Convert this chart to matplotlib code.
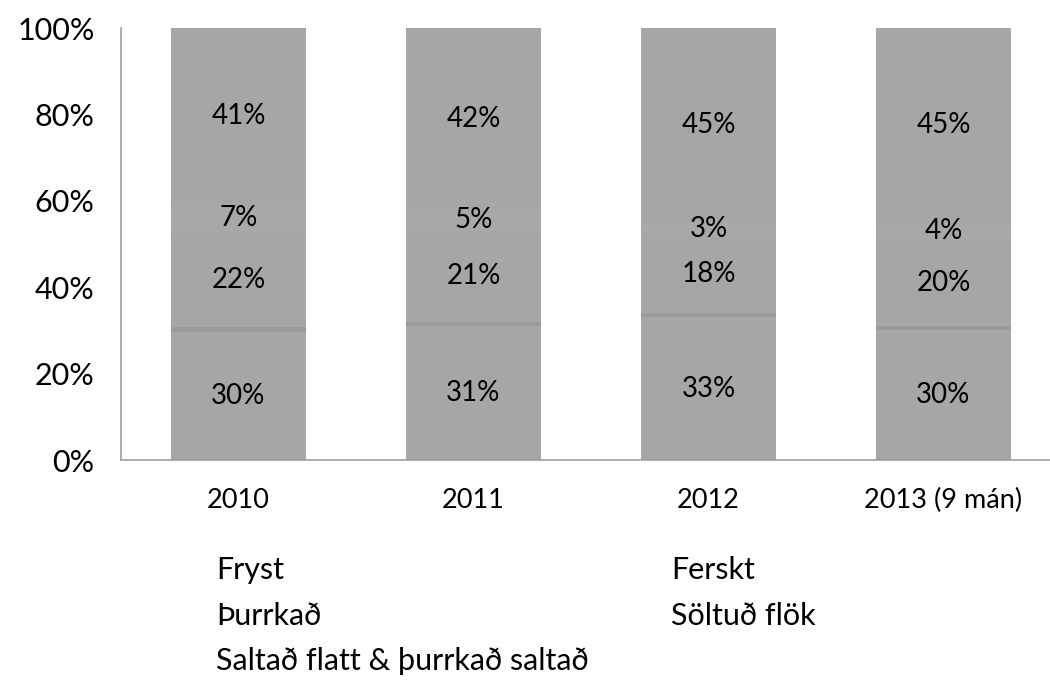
import numpy as np
import matplotlib
matplotlib.use("Agg")
import matplotlib.pyplot as plt
from matplotlib.patches import Patch

plt.rcParams['font.family'] = ['Lato', 'DejaVu Sans']

# categories and series (share of total, %)
years = ["2010", "2011", "2012", "2013 (9 mán)"]
series_names = ["Fryst", "Ferskt", "Þurrkað", "Söltuð flök",
                "Saltað flatt & þurrkað saltað"]
fryst = [30, 31, 33, 30]
ferskt = [1, 1, 1, 1]
thurrkad = [22, 21, 18, 20]
soltud_flok = [7, 5, 3, 4]
saltad = [41, 42, 45, 45]

values = np.array([fryst, ferskt, thurrkad, soltud_flok, saltad], dtype=float)
# stack to 100%
shares = values / values.sum(axis=0) * 100
show_label = [True, False, True, True, True]
colors = ["#a6a6a6", "#9a9a9a", "#a6a6a6", "#a8a8a8", "#a6a6a6"]

fig = plt.figure(figsize=(10.5, 6.83), dpi=100)
ax = fig.add_axes([121 / 1050, 1 - 460 / 683, 940 / 1050, 432 / 683])

x = np.arange(len(years))
bottom = np.zeros(len(years))
for i, name in enumerate(series_names):
    bars = ax.bar(x, shares[i], 0.575, bottom=bottom, color=colors[i],
                  label=name, linewidth=0)
    if show_label[i]:
        for j, b in enumerate(bars):
            ax.text(b.get_x() + b.get_width() / 2, bottom[j] + shares[i][j] / 2,
                    f"{int(values[i][j])}%", ha='center', va='center',
                    fontsize=20, color='black')
    bottom += shares[i]

ax.set_xlim(-0.5, len(years) - 0.5)
ax.set_ylim(0, 100)
ax.set_yticks(range(0, 101, 20))
ax.set_yticklabels([f"{v}%" for v in range(0, 101, 20)], fontsize=22)
ax.set_xticks(x)
ax.set_xticklabels(years, fontsize=19.5)
ax.tick_params(axis='y', length=0, pad=19)
ax.tick_params(axis='x', length=0, pad=20)

for side in ['top', 'right']:
    ax.spines[side].set_visible(False)
for side in ['left', 'bottom']:
    ax.spines[side].set_color('#a0a0a0')
    ax.spines[side].set_linewidth(1.2)

# legend without swatches, two columns filled row by row
handles = [Patch(visible=False) for _ in series_names]
order = [0, 2, 4, 1, 3]
leg = fig.legend([handles[k] for k in order], [series_names[k] for k in order],
                 ncol=2, loc='upper left', bbox_to_anchor=(216 / 1050, 1 - 556 / 683),
                 frameon=False, handlelength=0, handletextpad=0, borderpad=0,
                 borderaxespad=0, columnspacing=2.7, labelspacing=0.58,
                 fontsize=22)

fig.savefig("out.png", dpi=100)
